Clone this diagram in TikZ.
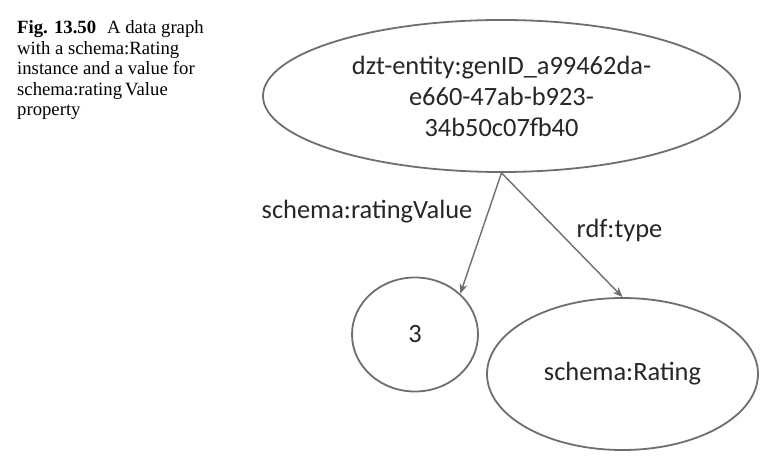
\documentclass[tikz,border=0pt]{standalone}
\usepackage{fontspec}
\setmainfont{Liberation Serif}
\newfontfamily\diagfont{Carlito}
\usetikzlibrary{shapes.geometric,arrows.meta}
\definecolor{edgegray}{HTML}{6E6E6E}
\definecolor{inkgray}{HTML}{262626}
\tikzset{
  graphnode/.style={ellipse, draw=edgegray, line width=1.8pt, inner sep=0pt,
    text=inkgray, font=\diagfont\fontsize{26.4}{31}\selectfont, align=center},
  graphedge/.style={draw=edgegray, line width=1.4pt,
    -{Stealth[length=10pt,width=8pt]}},
  edgelabel/.style={text=inkgray, font=\diagfont\fontsize{26.4}{31}\selectfont, inner sep=0pt},
  captionline/.style={anchor=base west, inner sep=0pt,
    font=\fontsize{18.7}{20.4}\selectfont, text=black}
}
\begin{document}
\begin{tikzpicture}[x=1pt,y=-1pt]
\useasboundingbox (0,0) rectangle (769,462);
\node[captionline] (cap1) at (17,34) {\textbf{Fig. 13.50}\hspace{11pt}A data graph};
\node[captionline] (cap2) at (17,54.5) {with a schema:Rating};
\node[captionline] (cap3) at (17,75) {instance and a value for};
\node[captionline] (cap4) at (17,95.5) {schema:rating\,Value};
\node[captionline] (cap5) at (17,116) {property};
\node[graphnode, minimum width=477pt, minimum height=152pt] (top) at (501.5,96) {dzt-entity:genID\_a99462da-\\e660-47ab-b923-\\34b50c07fb40};
\node[graphnode, minimum width=126pt, minimum height=114pt] (val) at (415,334.5) {3};
\node[graphnode, minimum width=271pt, minimum height=152pt] (rating) at (622.5,374) {schema:Rating};
\draw[graphedge] (top.south) -- (val.42);
\draw[graphedge] (top.south) -- (rating.north);
\node[edgelabel] (lv) at (367,212) {schema:ratingValue};
\node[edgelabel] (lt) at (619.5,230) {rdf:type};
\end{tikzpicture}
\end{document}
